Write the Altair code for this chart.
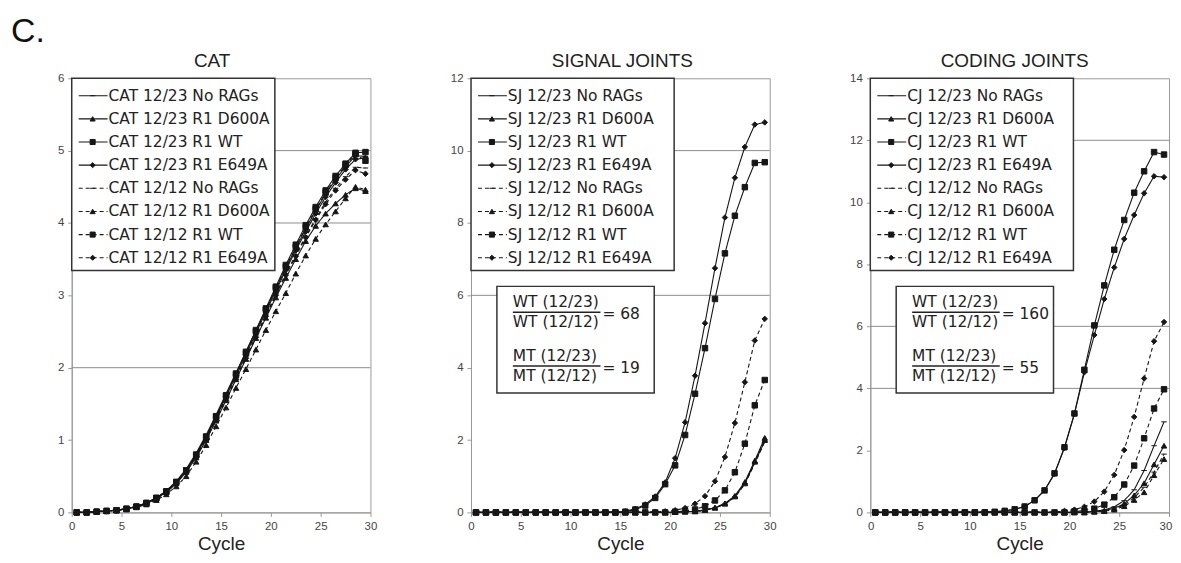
import altair as alt
import pandas as pd

# ---------------- data ----------------
cycles = list(range(1, 31))
series_names = ["12/23 No RAGs", "12/23 R1 D600A", "12/23 R1 WT", "12/23 R1 E649A",
                "12/12 No RAGs", "12/12 R1 D600A", "12/12 R1 WT", "12/12 R1 E649A"]
line_styles = ["solid", "solid", "solid", "solid", "dashed", "dashed", "dashed", "dashed"]
marker_shapes = ["stroke", "triangle-up", "square", "diamond",
                 "stroke", "triangle-up", "square", "diamond"]

# CAT
cat_2323_norags = [0.0, 0.0, 0.01, 0.02, 0.03, 0.05, 0.08, 0.13, 0.2, 0.3, 0.43, 0.6, 0.82, 1.07, 1.35, 1.64, 1.93, 2.22, 2.51, 2.8, 3.09, 3.38, 3.65, 3.92, 4.17, 4.4, 4.6, 4.78, 4.93, 4.92]
cat_2323_d600a = [0.0, 0.0, 0.01, 0.02, 0.03, 0.05, 0.08, 0.12, 0.19, 0.28, 0.4, 0.56, 0.76, 1.0, 1.27, 1.55, 1.84, 2.12, 2.41, 2.69, 2.97, 3.24, 3.5, 3.75, 3.96, 4.13, 4.27, 4.39, 4.48, 4.44]
cat_2323_wt = [0.0, 0.0, 0.01, 0.02, 0.03, 0.05, 0.08, 0.13, 0.2, 0.29, 0.42, 0.58, 0.8, 1.05, 1.33, 1.62, 1.92, 2.22, 2.52, 2.82, 3.12, 3.42, 3.7, 3.97, 4.22, 4.45, 4.65, 4.82, 4.97, 4.98]
cat_2323_e649a = [0.0, 0.0, 0.01, 0.02, 0.03, 0.05, 0.08, 0.13, 0.2, 0.29, 0.42, 0.58, 0.8, 1.04, 1.31, 1.6, 1.89, 2.18, 2.48, 2.77, 3.06, 3.35, 3.62, 3.88, 4.13, 4.36, 4.56, 4.74, 4.88, 4.9]
cat_1212_norags = [0.0, 0.0, 0.01, 0.02, 0.03, 0.05, 0.08, 0.12, 0.19, 0.28, 0.41, 0.57, 0.78, 1.02, 1.29, 1.57, 1.86, 2.15, 2.44, 2.73, 3.02, 3.3, 3.56, 3.82, 4.06, 4.29, 4.48, 4.64, 4.77, 4.76]
cat_1212_d600a = [0.0, 0.0, 0.01, 0.02, 0.03, 0.04, 0.07, 0.11, 0.17, 0.25, 0.36, 0.5, 0.7, 0.93, 1.19, 1.45, 1.72, 1.98, 2.25, 2.52, 2.78, 3.03, 3.3, 3.55, 3.78, 3.98, 4.16, 4.34, 4.5, 4.46]
cat_1212_wt = [0.0, 0.0, 0.01, 0.02, 0.03, 0.05, 0.08, 0.13, 0.2, 0.29, 0.42, 0.58, 0.79, 1.04, 1.32, 1.61, 1.9, 2.2, 2.5, 2.8, 3.1, 3.39, 3.67, 3.94, 4.19, 4.42, 4.62, 4.8, 4.95, 4.86]
cat_1212_e649a = [0.0, 0.0, 0.01, 0.02, 0.03, 0.05, 0.08, 0.12, 0.19, 0.28, 0.4, 0.56, 0.77, 1.01, 1.27, 1.55, 1.84, 2.13, 2.42, 2.71, 3.0, 3.28, 3.54, 3.8, 4.04, 4.26, 4.45, 4.6, 4.73, 4.68]

# SIGNAL JOINTS
sj_2323_norags = [0.0, 0.0, 0.0, 0.0, 0.0, 0.0, 0.0, 0.0, 0.0, 0.0, 0.0, 0.0, 0.0, 0.0, 0.0, 0.0, 0.0, 0.0, 0.0, 0.0, 0.01, 0.02, 0.03, 0.06, 0.12, 0.23, 0.43, 0.8, 1.38, 1.97]
sj_2323_d600a = [0.0, 0.0, 0.0, 0.0, 0.0, 0.0, 0.0, 0.0, 0.0, 0.0, 0.0, 0.0, 0.0, 0.0, 0.0, 0.0, 0.0, 0.0, 0.0, 0.0, 0.01, 0.02, 0.03, 0.07, 0.13, 0.25, 0.46, 0.84, 1.43, 2.06]
sj_2323_wt = [0.0, 0.0, 0.0, 0.0, 0.0, 0.0, 0.0, 0.0, 0.0, 0.0, 0.0, 0.0, 0.0, 0.0, 0.0, 0.02, 0.08, 0.19, 0.4, 0.78, 1.3, 2.14, 3.28, 4.54, 5.9, 7.16, 8.2, 8.99, 9.66, 9.68]
sj_2323_e649a = [0.0, 0.0, 0.0, 0.0, 0.0, 0.0, 0.0, 0.0, 0.0, 0.0, 0.0, 0.0, 0.0, 0.0, 0.0, 0.03, 0.1, 0.22, 0.44, 0.83, 1.5, 2.49, 3.78, 5.23, 6.75, 8.15, 9.25, 10.1, 10.72, 10.78]
sj_1212_norags = [0.0, 0.0, 0.0, 0.0, 0.0, 0.0, 0.0, 0.0, 0.0, 0.0, 0.0, 0.0, 0.0, 0.0, 0.0, 0.0, 0.0, 0.0, 0.0, 0.0, 0.01, 0.01, 0.02, 0.06, 0.12, 0.23, 0.42, 0.78, 1.35, 1.95]
sj_1212_d600a = [0.0, 0.0, 0.0, 0.0, 0.0, 0.0, 0.0, 0.0, 0.0, 0.0, 0.0, 0.0, 0.0, 0.0, 0.0, 0.0, 0.0, 0.0, 0.0, 0.0, 0.01, 0.02, 0.03, 0.07, 0.13, 0.24, 0.44, 0.8, 1.4, 2.0]
sj_1212_wt = [0.0, 0.0, 0.0, 0.0, 0.0, 0.0, 0.0, 0.0, 0.0, 0.0, 0.0, 0.0, 0.0, 0.0, 0.0, 0.0, 0.0, 0.0, 0.0, 0.0, 0.02, 0.04, 0.08, 0.17, 0.33, 0.61, 1.11, 1.9, 2.96, 3.66]
sj_1212_e649a = [0.0, 0.0, 0.0, 0.0, 0.0, 0.0, 0.0, 0.0, 0.0, 0.0, 0.0, 0.0, 0.0, 0.0, 0.0, 0.0, 0.0, 0.0, 0.02, 0.03, 0.06, 0.12, 0.24, 0.45, 0.86, 1.53, 2.47, 3.6, 4.75, 5.35]

# CODING JOINTS
cj_2323_norags = [0.0, 0.0, 0.0, 0.0, 0.0, 0.0, 0.0, 0.0, 0.0, 0.0, 0.0, 0.0, 0.0, 0.0, 0.0, 0.0, 0.0, 0.0, 0.0, 0.0, 0.0, 0.0, 0.04, 0.08, 0.18, 0.38, 0.73, 1.35, 2.15, 2.92]
cj_2323_d600a = [0.0, 0.0, 0.0, 0.0, 0.0, 0.0, 0.0, 0.0, 0.0, 0.0, 0.0, 0.0, 0.0, 0.0, 0.0, 0.0, 0.0, 0.0, 0.0, 0.0, 0.0, 0.0, 0.03, 0.06, 0.13, 0.28, 0.55, 0.94, 1.55, 2.15]
cj_2323_wt = [0.0, 0.0, 0.0, 0.0, 0.0, 0.0, 0.0, 0.0, 0.0, 0.0, 0.0, 0.0, 0.02, 0.05, 0.1, 0.19, 0.39, 0.71, 1.26, 2.1, 3.19, 4.6, 6.03, 7.32, 8.47, 9.43, 10.31, 11.0, 11.62, 11.54]
cj_2323_e649a = [0.0, 0.0, 0.0, 0.0, 0.0, 0.0, 0.0, 0.0, 0.0, 0.0, 0.0, 0.0, 0.02, 0.05, 0.1, 0.19, 0.39, 0.71, 1.24, 2.08, 3.17, 4.52, 5.72, 6.88, 7.9, 8.82, 9.59, 10.29, 10.84, 10.81]
cj_1212_norags = [0.0, 0.0, 0.0, 0.0, 0.0, 0.0, 0.0, 0.0, 0.0, 0.0, 0.0, 0.0, 0.0, 0.0, 0.0, 0.0, 0.0, 0.0, 0.0, 0.0, 0.0, 0.0, 0.02, 0.05, 0.11, 0.24, 0.47, 0.81, 1.3, 1.88]
cj_1212_d600a = [0.0, 0.0, 0.0, 0.0, 0.0, 0.0, 0.0, 0.0, 0.0, 0.0, 0.0, 0.0, 0.0, 0.0, 0.0, 0.0, 0.0, 0.0, 0.0, 0.0, 0.0, 0.0, 0.02, 0.04, 0.09, 0.2, 0.4, 0.65, 1.2, 1.72]
cj_1212_wt = [0.0, 0.0, 0.0, 0.0, 0.0, 0.0, 0.0, 0.0, 0.0, 0.0, 0.0, 0.0, 0.0, 0.0, 0.0, 0.0, 0.0, 0.0, 0.0, 0.0, 0.03, 0.06, 0.12, 0.25, 0.49, 0.9, 1.51, 2.39, 3.35, 3.97]
cj_1212_e649a = [0.0, 0.0, 0.0, 0.0, 0.0, 0.0, 0.0, 0.0, 0.0, 0.0, 0.0, 0.0, 0.0, 0.0, 0.0, 0.0, 0.0, 0.0, 0.0, 0.05, 0.09, 0.18, 0.35, 0.67, 1.21, 2.01, 3.08, 4.32, 5.52, 6.14]

x_tick_values = [0, 5, 10, 15, 20, 25, 30]
cat_y_ticks = [0, 1, 2, 3, 4, 5, 6]
sj_y_ticks = [0, 2, 4, 6, 8, 10, 12]
cj_y_ticks = [0, 2, 4, 6, 8, 10, 12, 14]
cat_grid = [2, 4, 5]
sj_grid = [6, 10]
cj_grid = [4, 6, 12]

ratio_numerators = ["WT (12/23)", "MT (12/23)"]
ratio_denominators = ["WT (12/12)", "MT (12/12)"]
sj_ratio_values = ["= 68", "= 19"]
cj_ratio_values = ["= 160", "= 55"]

# ---------------- styling ----------------
W, H = 300, 436
INK = "#161616"
TXT_FONT = "DejaVu Sans"
HEAD_FONT = "Liberation Sans"

dash_scale = alt.Scale(domain=["solid", "dashed"], range=[[1, 0], [4, 3]])
shape_scale = alt.Scale(domain=["stroke", "triangle-up", "square", "diamond"],
                        range=["stroke", "triangle-up", "square", "diamond"])
one_row = pd.DataFrame({"k": [0]})


def panel(prefix, series, ymax, yticks, grid_vals, title, title_x,
          ratio_vals=None, show_c=False, flush=False):
    rows = []
    for i, vals in enumerate(series):
        for c, v in zip(cycles, vals):
            rows.append({"cycle": c, "value": v, "series": series_names[i],
                         "dash": line_styles[i], "marker": marker_shapes[i]})
    df = pd.DataFrame(rows)

    if flush:
        x_axis = alt.Axis(values=x_tick_values, title="Cycle", format="d",
                          labelFlush=True, labelFlushOffset=2.8)
    else:
        x_axis = alt.Axis(values=x_tick_values, title="Cycle", format="d", labelFlush=False)
    x_enc = alt.X("xpos:Q", scale=alt.Scale(domain=[0, 30], nice=False, zero=False), axis=x_axis)
    y_axis = alt.Axis(values=yticks, title=None, format="d", labelFlush=False)
    y_scale = alt.Scale(domain=[0, ymax], nice=False)

    base = alt.Chart(df).transform_calculate(xpos="datum.cycle - 0.5")

    grid = alt.Chart(pd.DataFrame({"value": grid_vals})).mark_rule(
        color="#8c8c8c", strokeWidth=1).encode(
        y=alt.Y("value:Q", scale=y_scale, axis=y_axis),
        x=alt.value(0), x2=alt.value(W))

    lines = base.mark_line(color=INK, strokeWidth=1.1).encode(
        x=x_enc, y=alt.Y("value:Q", scale=y_scale, axis=y_axis),
        detail="series:N",
        strokeDash=alt.StrokeDash("dash:N", scale=dash_scale, legend=None))

    pts = base.mark_point(filled=True, fill=INK, stroke=INK, strokeWidth=1,
                          size=30, opacity=1).encode(
        x=x_enc, y=alt.Y("value:Q", scale=y_scale, axis=y_axis),
        shape=alt.Shape("marker:N", scale=shape_scale, legend=None))

    # legend box
    leg_df = pd.DataFrame({"label": [prefix + " " + s for s in series_names],
                           "dash": line_styles, "marker": marker_shapes,
                           "row": list(range(8))})
    leg_base = alt.Chart(leg_df).transform_calculate(ly="17.5 + 23.25 * datum.row")
    leg_box = alt.Chart(one_row).mark_rect(fill="white", stroke="#333", strokeWidth=1.5).encode(
        x=alt.value(0), x2=alt.value(204), y=alt.value(0), y2=alt.value(193))
    leg_line = leg_base.mark_rule(color=INK, strokeWidth=1.1).encode(
        x=alt.value(7), x2=alt.value(36), y=alt.Y("ly:Q", scale=None),
        strokeDash=alt.StrokeDash("dash:N", scale=dash_scale, legend=None))
    leg_pt = leg_base.mark_point(filled=True, fill=INK, stroke=INK, strokeWidth=1,
                                 size=26, opacity=1).encode(
        x=alt.value(21), y=alt.Y("ly:Q", scale=None),
        shape=alt.Shape("marker:N", scale=shape_scale, legend=None))
    leg_txt = leg_base.mark_text(align="left", baseline="middle", font=TXT_FONT,
                                 fontSize=15.5, color="#222").encode(
        x=alt.value(37), y=alt.Y("ly:Q", scale=None), text="label:N")

    head = alt.Chart(one_row).mark_text(align="center", baseline="alphabetic", font=HEAD_FONT,
                                        fontSize=19, color="#222", text=title).encode(
        x=alt.value(title_x), y=alt.value(-11))

    layers = [grid, lines, pts, leg_box, leg_line, leg_pt, leg_txt, head]

    if ratio_vals is not None:
        rdf = pd.DataFrame({"num": ratio_numerators, "den": ratio_denominators,
                            "val": ratio_vals, "blk": [0, 1]})
        rb = alt.Chart(rdf).transform_calculate(ny="230 + 54 * datum.blk")
        box = alt.Chart(one_row).mark_rect(fill="white", stroke="#333", strokeWidth=1.5).encode(
            x=alt.value(26), x2=alt.value(184), y=alt.value(209), y2=alt.value(316))
        num = rb.mark_text(align="left", baseline="alphabetic", font=TXT_FONT,
                           fontSize=15.5, color="#222").encode(
            x=alt.value(42), y=alt.Y("ny:Q", scale=None), text="num:N")
        bar = rb.transform_calculate(ly="datum.ny + 5").mark_rule(color="#222", strokeWidth=1.5).encode(
            x=alt.value(42), x2=alt.value(130), y=alt.Y("ly:Q", scale=None))
        den = rb.transform_calculate(dy="datum.ny + 20").mark_text(
            align="left", baseline="alphabetic", font=TXT_FONT, fontSize=15.5, color="#222").encode(
            x=alt.value(42), y=alt.Y("dy:Q", scale=None), text="den:N")
        val = rb.transform_calculate(vy="datum.ny + 12").mark_text(
            align="left", baseline="alphabetic", font=TXT_FONT, fontSize=15.5, color="#222").encode(
            x=alt.value(132), y=alt.Y("vy:Q", scale=None), text="val:N")
        layers += [box, num, bar, den, val]

    if show_c:
        ctext = alt.Chart(one_row).mark_text(align="left", baseline="top", font=HEAD_FONT,
                                             fontSize=34, color="#111", text="C.").encode(
            x=alt.value(-61), y=alt.value(-63.6))
        layers.append(ctext)

    return alt.layer(*layers).properties(width=W, height=H)


p1 = panel("CAT", [cat_2323_norags, cat_2323_d600a, cat_2323_wt, cat_2323_e649a,
                   cat_1212_norags, cat_1212_d600a, cat_1212_wt, cat_1212_e649a],
           6, cat_y_ticks, cat_grid, "CAT", 141, show_c=True)
p2 = panel("SJ", [sj_2323_norags, sj_2323_d600a, sj_2323_wt, sj_2323_e649a,
                  sj_1212_norags, sj_1212_d600a, sj_1212_wt, sj_1212_e649a],
           12, sj_y_ticks, sj_grid, "SIGNAL JOINTS", 152, ratio_vals=sj_ratio_values)
p3 = panel("CJ", [cj_2323_norags, cj_2323_d600a, cj_2323_wt, cj_2323_e649a,
                  cj_1212_norags, cj_1212_d600a, cj_1212_wt, cj_1212_e649a],
           14, cj_y_ticks, cj_grid, "CODING JOINTS", 145, ratio_vals=cj_ratio_values, flush=True)

chart = alt.hconcat(p1, p2, p3, spacing=72).properties(
    padding={"left": 2, "top": 4.4, "right": 0, "bottom": 0}
).configure_view(stroke="#999", strokeWidth=1).configure_axis(
    domainColor="#999", tickColor="#999", labelColor="#444",
    labelFont=HEAD_FONT, labelFontSize=11.5, grid=False, tickSize=4, labelPadding=4,
    titleFont=HEAD_FONT, titleFontSize=19, titleFontWeight="normal", titleColor="#222",
    titlePadding=3
)

chart.save("out.html", embed_options={"renderer": "svg", "actions": False})
